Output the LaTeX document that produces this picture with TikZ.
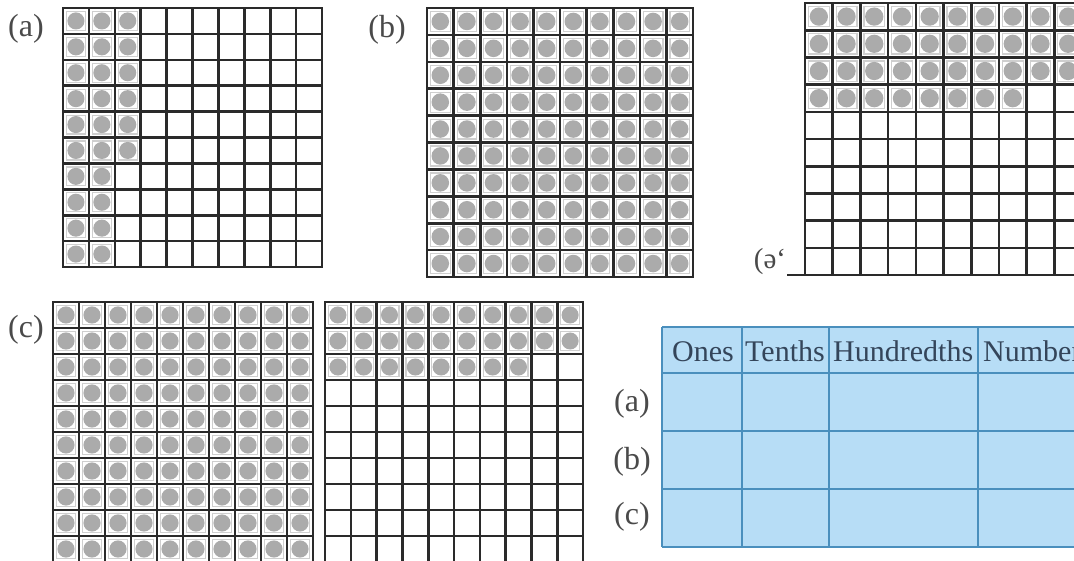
\documentclass[tikz,border=0pt]{standalone}
\usepackage{fontspec}
\setmainfont{Liberation Serif}
\definecolor{gline}{HTML}{2A2A2A}
\definecolor{dotc}{HTML}{ABABAB}
\definecolor{rimc}{HTML}{CFCFCF}
\definecolor{lblc}{HTML}{4A4A4A}
\definecolor{hdrc}{HTML}{34455A}
\definecolor{tfill}{HTML}{B7DDF6}
\definecolor{tlinec}{HTML}{4A8FBD}
\tikzset{
  gridline/.style={line width=2.6pt, draw=gline, line cap=rect},
  rim/.style={draw=rimc, line width=1.2pt},
  lbl/.style={font=\fontsize{32}{32}\selectfont, text=lblc, inner sep=0pt},
  hdr/.style={font=\fontsize{30}{30}\selectfont, text=hdrc, inner sep=0pt, anchor=base west},
  tline/.style={draw=tlinec, line width=1.6pt}
}
% #1 x0, #2 y0, #3 cell w, #4 cell h, #5 number of dots, #6 mode (1 = by rows, 0 = by columns)
\newcommand\hundredgrid[6]{%
  \fill[white] (#1,#2) rectangle ++(10*#3,10*#4);
  \foreach \i in {0,...,9}{\foreach \j in {0,...,9}{%
    \pgfmathtruncatemacro\idx{#6==1 ? \j*10+\i : \i*10+\j}%
    \ifnum\idx<#5\relax
      \draw[rim] (#1+\i*#3+3.5,#2+\j*#4+3.5) rectangle ++(#3-7,#4-7);
      \fill[dotc] (#1+\i*#3+0.5*#3,#2+\j*#4+0.5*#4) circle[radius={0.33*#3*1pt}];
    \fi}}
  \foreach \k in {0,...,10}{%
    \draw[gridline] (#1+\k*#3,#2) -- ++(0,10*#4);
    \draw[gridline] (#1,#2+\k*#4) -- ++(10*#3,0);}
}
\begin{document}
\begin{tikzpicture}[x=1pt,y=-1pt]
\useasboundingbox (0,0) rectangle (1074,560);
\clip (0,0) rectangle (1074,560);
\fill[white] (0,0) rectangle (1074,560);

% grids
\hundredgrid{63}{8}{25.9}{25.9}{26}{0}
\hundredgrid{427}{8}{26.6}{26.9}{100}{1}
\hundredgrid{805}{3}{27.7}{27.2}{38}{1}
\draw[gridline] (788,275) -- (805,275);
\hundredgrid{53}{302}{26}{26}{100}{1}
\hundredgrid{325}{302}{25.8}{26}{28}{1}

% labels
\node[lbl] (la) at (26,29) {(a)};
\node[lbl] (lb) at (387,30) {(b)};
\node[lbl, font=\fontsize{29}{29}\selectfont] (le) at (770,262) {(ə`};
\node[lbl] (lc) at (26,330) {(c)};

% table
\fill[tfill] (662,327) rectangle (1100,547);
\foreach \yy in {327,373,431,489,547} \draw[tline] (662,\yy) -- (1100,\yy);
\foreach \xx in {662,742,829,978} \draw[tline] (\xx,327) -- (\xx,547);
\node[hdr] (hones) at (672,361) {Ones};
\node[hdr] (hten) at (745,361) {Tenths};
\node[hdr] (hhun) at (833,361) {Hundredths};
\node[hdr] (hnum) at (983,361) {Number};
\node[lbl] (ra) at (632,404) {(a)};
\node[lbl] (rb) at (632,462) {(b)};
\node[lbl] (rc) at (632,517) {(c)};
\end{tikzpicture}
\end{document}
